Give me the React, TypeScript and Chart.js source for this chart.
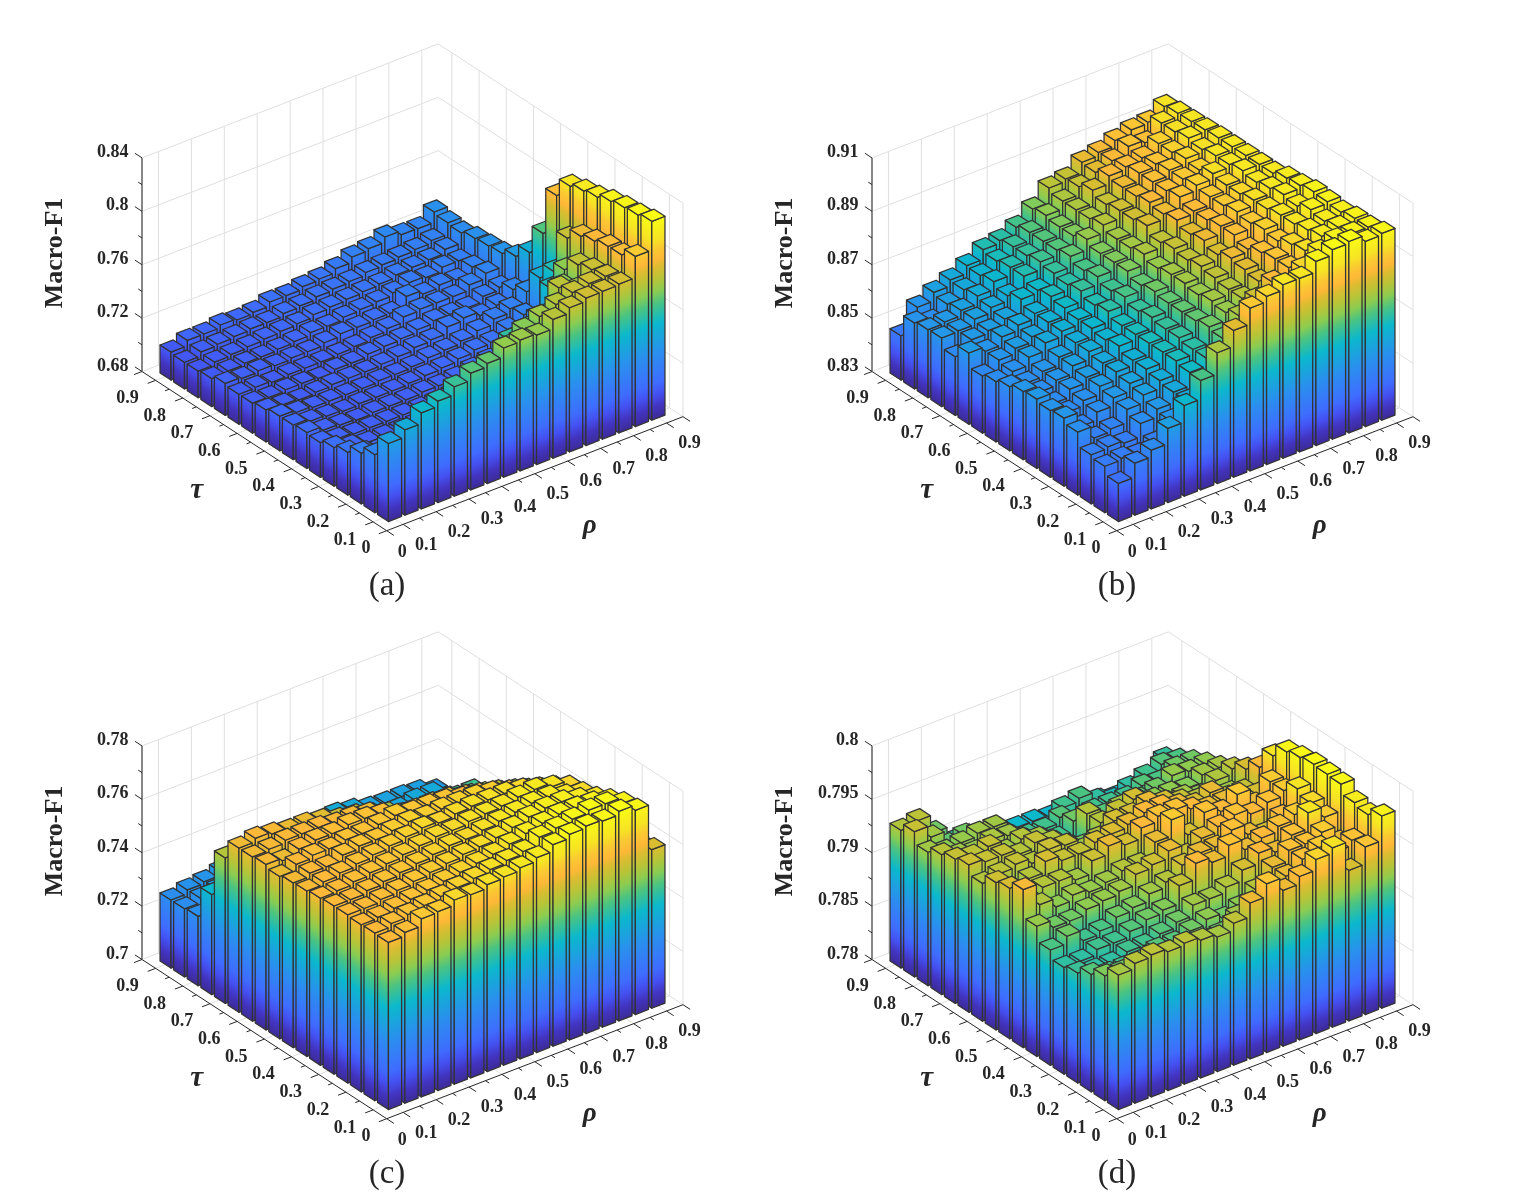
import { useEffect, useRef } from "react";
import { Chart, registerables } from "chart.js";

Chart.register(...registerables);

// bar positions, rows run from the back (tau 0.9) to the front (tau 0.1)
const rhoValues = [0.1, 0.15, 0.2, 0.25, 0.3, 0.35, 0.4, 0.45, 0.5, 0.55, 0.6, 0.65, 0.7, 0.75, 0.8, 0.85, 0.9];
const tauValues = [0.9, 0.85, 0.8, 0.75, 0.7, 0.65, 0.6, 0.55, 0.5, 0.45, 0.4, 0.35, 0.3, 0.25, 0.2, 0.15, 0.1];
const axisTicks = [0.1, 0.15, 0.2, 0.25, 0.3, 0.35, 0.4, 0.45, 0.5, 0.55, 0.6, 0.65, 0.7, 0.75, 0.8, 0.85, 0.9];
const axisLabels = ["0.1", "0.2", "0.3", "0.4", "0.5", "0.6", "0.7", "0.8", "0.9"];

const zLabelsA = ["0.68", "0.72", "0.76", "0.8", "0.84"];
const zLabelsB = ["0.83", "0.85", "0.87", "0.89", "0.91"];
const zLabelsC = ["0.7", "0.72", "0.74", "0.76", "0.78"];
const zLabelsD = ["0.78", "0.785", "0.79", "0.795", "0.8"];

const macroF1A = [
  [0.701, 0.705, 0.705, 0.707, 0.706, 0.707, 0.71, 0.71, 0.712, 0.713, 0.716, 0.72, 0.7215, 0.7255, 0.7225, 0.7223, 0.73],
  [0.7, 0.703, 0.704, 0.705, 0.706, 0.706, 0.708, 0.709, 0.711, 0.712, 0.713, 0.715, 0.716, 0.717, 0.718, 0.72, 0.7285],
  [0.7, 0.702, 0.703, 0.704, 0.705, 0.706, 0.707, 0.709, 0.71, 0.711, 0.712, 0.713, 0.715, 0.716, 0.717, 0.72, 0.7275],
  [0.701, 0.702, 0.703, 0.703, 0.704, 0.705, 0.707, 0.707, 0.709, 0.71, 0.711, 0.713, 0.716, 0.715, 0.718, 0.718, 0.73],
  [0.704, 0.703, 0.704, 0.703, 0.704, 0.704, 0.706, 0.708, 0.708, 0.709, 0.709, 0.717, 0.714, 0.716, 0.715, 0.72, 0.731],
  [0.7025, 0.703, 0.702, 0.703, 0.703, 0.703, 0.704, 0.705, 0.707, 0.709, 0.713, 0.714, 0.714, 0.714, 0.718, 0.722, 0.732],
  [0.7025, 0.702, 0.703, 0.703, 0.702, 0.704, 0.704, 0.706, 0.707, 0.708, 0.71, 0.712, 0.712, 0.712, 0.716, 0.718, 0.7365],
  [0.704, 0.703, 0.702, 0.703, 0.704, 0.704, 0.704, 0.705, 0.706, 0.708, 0.709, 0.714, 0.716, 0.713, 0.716, 0.723, 0.746],
  [0.706, 0.704, 0.703, 0.703, 0.703, 0.703, 0.704, 0.704, 0.705, 0.707, 0.708, 0.71, 0.713, 0.717, 0.72, 0.728, 0.767],
  [0.706, 0.704, 0.703, 0.702, 0.703, 0.703, 0.703, 0.704, 0.705, 0.706, 0.708, 0.71, 0.711, 0.716, 0.722, 0.745, 0.802],
  [0.707, 0.704, 0.703, 0.702, 0.703, 0.703, 0.703, 0.704, 0.704, 0.705, 0.707, 0.709, 0.712, 0.716, 0.727, 0.7565, 0.8155],
  [0.706, 0.704, 0.703, 0.703, 0.703, 0.703, 0.703, 0.703, 0.704, 0.706, 0.709, 0.711, 0.714, 0.722, 0.755, 0.788, 0.8185],
  [0.709, 0.705, 0.703, 0.703, 0.703, 0.703, 0.703, 0.704, 0.705, 0.707, 0.71, 0.713, 0.72, 0.747, 0.7758, 0.796, 0.8205],
  [0.712, 0.707, 0.705, 0.703, 0.703, 0.703, 0.704, 0.705, 0.706, 0.709, 0.714, 0.72, 0.758, 0.775, 0.786, 0.799, 0.824],
  [0.718, 0.711, 0.706, 0.704, 0.704, 0.705, 0.706, 0.707, 0.72, 0.76, 0.764, 0.767, 0.785, 0.779, 0.789, 0.8017, 0.826],
  [0.7235, 0.716, 0.71, 0.708, 0.708, 0.709, 0.713, 0.725, 0.7665, 0.7745, 0.7795, 0.7838, 0.788, 0.79, 0.7907, 0.802, 0.827],
  [0.7385, 0.744, 0.752, 0.756, 0.762, 0.7675, 0.77, 0.7768, 0.778, 0.777, 0.784, 0.788, 0.7905, 0.7908, 0.7915, 0.8075, 0.829],
];

const macroF1B = [
  [0.8466, 0.8549, 0.8581, 0.8604, 0.8634, 0.867, 0.868, 0.8706, 0.8751, 0.8806, 0.8816, 0.8855, 0.8868, 0.8889, 0.8905, 0.891, 0.8945],
  [0.8547, 0.853, 0.857, 0.86, 0.863, 0.866, 0.869, 0.872, 0.876, 0.879, 0.882, 0.885, 0.887, 0.89, 0.889, 0.894, 0.8953],
  [0.8555, 0.856, 0.858, 0.861, 0.864, 0.867, 0.869, 0.872, 0.875, 0.879, 0.884, 0.887, 0.888, 0.889, 0.892, 0.894, 0.8955],
  [0.8557, 0.856, 0.858, 0.86, 0.862, 0.867, 0.87, 0.872, 0.875, 0.879, 0.882, 0.886, 0.889, 0.89, 0.892, 0.895, 0.8957],
  [0.852, 0.856, 0.857, 0.859, 0.864, 0.865, 0.869, 0.873, 0.877, 0.88, 0.883, 0.886, 0.889, 0.891, 0.893, 0.894, 0.896],
  [0.8567, 0.855, 0.858, 0.86, 0.862, 0.866, 0.868, 0.871, 0.875, 0.878, 0.883, 0.887, 0.889, 0.891, 0.892, 0.895, 0.896],
  [0.8514, 0.855, 0.857, 0.859, 0.862, 0.865, 0.869, 0.872, 0.875, 0.878, 0.884, 0.886, 0.89, 0.892, 0.894, 0.895, 0.896],
  [0.8526, 0.854, 0.857, 0.86, 0.862, 0.864, 0.867, 0.87, 0.875, 0.879, 0.881, 0.887, 0.888, 0.891, 0.893, 0.896, 0.896],
  [0.854, 0.853, 0.855, 0.858, 0.861, 0.864, 0.868, 0.871, 0.873, 0.877, 0.882, 0.885, 0.888, 0.891, 0.893, 0.895, 0.896],
  [0.8555, 0.853, 0.855, 0.858, 0.861, 0.863, 0.866, 0.869, 0.874, 0.878, 0.881, 0.886, 0.889, 0.892, 0.894, 0.896, 0.8975],
  [0.856, 0.852, 0.855, 0.857, 0.86, 0.864, 0.866, 0.87, 0.873, 0.878, 0.882, 0.884, 0.889, 0.891, 0.894, 0.897, 0.898],
  [0.855, 0.852, 0.854, 0.857, 0.86, 0.862, 0.866, 0.869, 0.873, 0.877, 0.881, 0.886, 0.887, 0.892, 0.895, 0.896, 0.899],
  [0.8555, 0.85, 0.853, 0.856, 0.859, 0.862, 0.866, 0.869, 0.873, 0.878, 0.88, 0.885, 0.889, 0.891, 0.895, 0.898, 0.8986],
  [0.8536, 0.849, 0.85, 0.855, 0.858, 0.861, 0.866, 0.868, 0.874, 0.877, 0.88, 0.884, 0.89, 0.893, 0.896, 0.897, 0.898],
  [0.8484, 0.849, 0.848, 0.853, 0.856, 0.86, 0.865, 0.868, 0.873, 0.879, 0.883, 0.887, 0.89, 0.894, 0.897, 0.898, 0.899],
  [0.8474, 0.848, 0.847, 0.849, 0.855, 0.86, 0.864, 0.87, 0.877, 0.882, 0.886, 0.889, 0.893, 0.897, 0.899, 0.899, 0.899],
  [0.8443, 0.8495, 0.852, 0.8578, 0.864, 0.871, 0.879, 0.885, 0.891, 0.893, 0.895, 0.895, 0.899, 0.901, 0.9017, 0.8994, 0.9],
];

const macroF1C = [
  [0.7255, 0.7269, 0.7276, 0.729, 0.73, 0.731, 0.731, 0.732, 0.733, 0.733, 0.7339, 0.733, 0.7314, 0.731, 0.731, 0.7305, 0.7284],
  [0.7255, 0.727, 0.728, 0.729, 0.73, 0.731, 0.732, 0.733, 0.734, 0.734, 0.734, 0.733, 0.732, 0.732, 0.733, 0.733, 0.729],
  [0.726, 0.728, 0.729, 0.73, 0.731, 0.732, 0.733, 0.733, 0.733, 0.733, 0.733, 0.733, 0.733, 0.733, 0.733, 0.733, 0.731],
  [0.7375, 0.738, 0.737, 0.738, 0.738, 0.738, 0.738, 0.738, 0.737, 0.736, 0.736, 0.736, 0.735, 0.735, 0.735, 0.734, 0.733],
  [0.7545, 0.752, 0.752, 0.751, 0.75, 0.75, 0.749, 0.748, 0.747, 0.746, 0.745, 0.745, 0.744, 0.744, 0.744, 0.744, 0.735],
  [0.7615, 0.7628, 0.762, 0.761, 0.761, 0.76, 0.758, 0.757, 0.755, 0.753, 0.75, 0.7495, 0.749, 0.7485, 0.748, 0.746, 0.738],
  [0.7615, 0.762, 0.763, 0.763, 0.763, 0.762, 0.762, 0.761, 0.757, 0.756, 0.755, 0.753, 0.753, 0.753, 0.752, 0.75, 0.74],
  [0.762, 0.761, 0.763, 0.764, 0.764, 0.765, 0.765, 0.764, 0.7615, 0.761, 0.761, 0.7605, 0.759, 0.757, 0.756, 0.754, 0.742],
  [0.7608, 0.763, 0.764, 0.764, 0.765, 0.765, 0.766, 0.767, 0.766, 0.766, 0.7655, 0.764, 0.763, 0.761, 0.759, 0.7575, 0.745],
  [0.7617, 0.763, 0.763, 0.765, 0.766, 0.766, 0.767, 0.768, 0.7675, 0.768, 0.768, 0.768, 0.767, 0.765, 0.763, 0.761, 0.747],
  [0.762, 0.763, 0.764, 0.765, 0.766, 0.767, 0.768, 0.769, 0.7685, 0.7695, 0.77, 0.77, 0.77, 0.769, 0.767, 0.765, 0.749],
  [0.7626, 0.763, 0.764, 0.765, 0.766, 0.767, 0.768, 0.769, 0.769, 0.77, 0.7705, 0.771, 0.772, 0.7725, 0.771, 0.7686, 0.751],
  [0.763, 0.763, 0.764, 0.765, 0.766, 0.767, 0.768, 0.769, 0.769, 0.77, 0.771, 0.772, 0.773, 0.773, 0.771, 0.7695, 0.753],
  [0.763, 0.763, 0.764, 0.765, 0.766, 0.767, 0.768, 0.769, 0.7695, 0.7705, 0.772, 0.7735, 0.7745, 0.7745, 0.773, 0.771, 0.755],
  [0.7626, 0.763, 0.764, 0.765, 0.766, 0.767, 0.768, 0.769, 0.77, 0.7715, 0.773, 0.7745, 0.7755, 0.7755, 0.775, 0.7735, 0.756],
  [0.7628, 0.764, 0.765, 0.766, 0.767, 0.768, 0.769, 0.77, 0.771, 0.772, 0.775, 0.776, 0.777, 0.778, 0.778, 0.7757, 0.758],
  [0.7626, 0.764, 0.7667, 0.767, 0.769, 0.7686, 0.77, 0.7705, 0.7716, 0.773, 0.7755, 0.777, 0.7777, 0.7772, 0.7785, 0.7765, 0.7594],
];

const macroF1D = [
  [0.7929, 0.7932, 0.7915, 0.79, 0.79, 0.7895, 0.7892, 0.789, 0.789, 0.7888, 0.7887, 0.7892, 0.7886, 0.7883, 0.7885, 0.7885, 0.7901],
  [0.7936, 0.7925, 0.7912, 0.7915, 0.7905, 0.7895, 0.7893, 0.789, 0.789, 0.7905, 0.7908, 0.79, 0.7895, 0.79, 0.7905, 0.791, 0.7908],
  [0.7925, 0.792, 0.7922, 0.7925, 0.7925, 0.791, 0.7905, 0.7905, 0.791, 0.7895, 0.7905, 0.7905, 0.7905, 0.791, 0.7908, 0.7915, 0.7915],
  [0.7931, 0.7925, 0.7922, 0.7927, 0.7925, 0.7915, 0.791, 0.7905, 0.7915, 0.7912, 0.791, 0.791, 0.7912, 0.7915, 0.7922, 0.792, 0.7921],
  [0.7935, 0.7932, 0.7935, 0.7925, 0.793, 0.7925, 0.7915, 0.7905, 0.793, 0.7915, 0.7925, 0.7925, 0.792, 0.792, 0.7918, 0.7925, 0.7926],
  [0.7938, 0.7935, 0.7935, 0.793, 0.7935, 0.793, 0.792, 0.7915, 0.793, 0.7935, 0.794, 0.7925, 0.7925, 0.7925, 0.792, 0.7928, 0.7933],
  [0.7929, 0.7932, 0.7935, 0.793, 0.7937, 0.7935, 0.7925, 0.793, 0.794, 0.794, 0.7945, 0.794, 0.7935, 0.793, 0.7925, 0.7925, 0.7941],
  [0.7938, 0.7925, 0.793, 0.794, 0.7935, 0.7935, 0.794, 0.7942, 0.7945, 0.795, 0.795, 0.7945, 0.794, 0.7945, 0.7935, 0.7935, 0.7951],
  [0.7941, 0.7925, 0.793, 0.793, 0.7925, 0.7937, 0.7945, 0.794, 0.795, 0.7955, 0.7955, 0.795, 0.7945, 0.7945, 0.794, 0.794, 0.797],
  [0.7948, 0.7928, 0.792, 0.7925, 0.7922, 0.7925, 0.793, 0.793, 0.7945, 0.796, 0.794, 0.7955, 0.795, 0.796, 0.7945, 0.796, 0.7982],
  [0.7922, 0.7915, 0.7915, 0.792, 0.7922, 0.7925, 0.7935, 0.7938, 0.7945, 0.7935, 0.7945, 0.795, 0.7955, 0.795, 0.7955, 0.796, 0.7985],
  [0.7908, 0.7915, 0.7905, 0.7908, 0.7915, 0.7918, 0.7925, 0.793, 0.794, 0.7945, 0.7945, 0.7955, 0.7945, 0.794, 0.795, 0.797, 0.7987],
  [0.79, 0.79, 0.7905, 0.7905, 0.791, 0.7915, 0.7918, 0.7935, 0.795, 0.7945, 0.7955, 0.7945, 0.795, 0.7955, 0.796, 0.7965, 0.7986],
  [0.7903, 0.79, 0.79, 0.7905, 0.7905, 0.791, 0.7915, 0.7925, 0.7925, 0.793, 0.794, 0.795, 0.7945, 0.7955, 0.797, 0.796, 0.7985],
  [0.791, 0.7905, 0.7905, 0.7905, 0.791, 0.791, 0.7915, 0.792, 0.7915, 0.792, 0.793, 0.7945, 0.7955, 0.7955, 0.796, 0.7945, 0.7976],
  [0.7917, 0.7915, 0.7905, 0.7912, 0.791, 0.7915, 0.7915, 0.7915, 0.7925, 0.793, 0.794, 0.7945, 0.7955, 0.796, 0.795, 0.7955, 0.7973],
  [0.7926, 0.7931, 0.7933, 0.793, 0.7932, 0.7929, 0.7926, 0.7933, 0.7946, 0.7958, 0.7946, 0.7953, 0.7963, 0.7968, 0.7941, 0.7957, 0.798],
];

const colorStops: [number, string][] = [
  [0, "#3d2b96"],
  [0.06, "#4234c0"],
  [0.12, "#4450f0"],
  [0.18, "#3f6cff"],
  [0.33, "#2a8fee"],
  [0.48, "#0bb8cc"],
  [0.58, "#4cc480"],
  [0.64, "#8ccc50"],
  [0.7, "#b8c438"],
  [0.76, "#dcbc30"],
  [0.8, "#ffb838"],
  [0.85, "#fac832"],
  [0.9, "#f6e324"],
  [1, "#f9fb15"],
];

// view of the 3D box in page pixels: front floor corner and the edge vectors
const FRONT = [386.7, 530.7];
const RHO_EDGE = [296.3, -114];
const TAU_EDGE = [-244.7, -159.2];
const Z_HEIGHT = 213.6;
const AXIS_START = 0.05;
const AXIS_SPAN = 0.9;
const BAR_HALF = 0.02;

const hexToRgb = (hex: string) => [1, 3, 5].map((i) => parseInt(hex.slice(i, i + 2), 16));

function colorAt(t: number) {
  const v = Math.min(1, Math.max(0, t));
  for (let i = 1; i < colorStops.length; i++) {
    if (v <= colorStops[i][0]) {
      const [t0, c0] = colorStops[i - 1];
      const [t1, c1] = colorStops[i];
      const k = (v - t0) / (t1 - t0);
      const a = hexToRgb(c0);
      const b = hexToRgb(c1);
      return `rgb(${a.map((x, n) => Math.round(x + (b[n] - x) * k)).join(",")})`;
    }
  }
  return colorStops[colorStops.length - 1][1];
}

interface PanelProps {
  values: number[][];
  zLabels: string[];
  caption: string;
  left: number;
  top: number;
}

function Panel({ values, zLabels, caption, left, top }: PanelProps) {
  const canvasRef = useRef<HTMLCanvasElement>(null);

  useEffect(() => {
    if (!canvasRef.current) return;
    const zMin = parseFloat(zLabels[0]);
    const zMax = parseFloat(zLabels[zLabels.length - 1]);
    const dataMax = Math.max(...values.flat());

    // data space to the flat plane the chart's x / y scales work in
    const project = (rho: number, tau: number, z: number) => {
      const r = (rho - AXIS_START) / AXIS_SPAN;
      const t = (tau - AXIS_START) / AXIS_SPAN;
      return {
        x: FRONT[0] + r * RHO_EDGE[0] + t * TAU_EDGE[0],
        y: FRONT[1] + r * RHO_EDGE[1] + t * TAU_EDGE[1] - ((z - zMin) / (zMax - zMin)) * Z_HEIGHT,
      };
    };

    const tops = values.flatMap((row, i) => row.map((v, j) => project(rhoValues[j], tauValues[i], v)));

    const box3d = {
      id: "box3d",
      beforeDatasetsDraw(chart: Chart) {
        const ctx = chart.ctx;
        const sx = chart.scales.x;
        const sy = chart.scales.y;
        const at = (rho: number, tau: number, z: number) => {
          const p = project(rho, tau, z);
          return [sx.getPixelForValue(p.x), sy.getPixelForValue(p.y)];
        };
        const line = (a: number[], b: number[], color: string, width: number) => {
          ctx.strokeStyle = color;
          ctx.lineWidth = width;
          ctx.beginPath();
          ctx.moveTo(a[0], a[1]);
          ctx.lineTo(b[0], b[1]);
          ctx.stroke();
        };
        const label = (text: string, x: number, y: number, font: string, align: CanvasTextAlign = "center") => {
          ctx.font = font;
          ctx.fillStyle = "#262626";
          ctx.textAlign = align;
          ctx.textBaseline = "middle";
          ctx.fillText(text, x, y);
        };
        const rhoEnd = AXIS_START + AXIS_SPAN;
        const tauEnd = AXIS_START + AXIS_SPAN;
        const grid = "#dfdfdf";

        ctx.save();
        // walls and floor
        const zStep = (zMax - zMin) / (zLabels.length - 1);
        zLabels.forEach((_, n) => {
          const z = zMin + n * zStep;
          line(at(AXIS_START, tauEnd, z), at(rhoEnd, tauEnd, z), grid, 1);
          line(at(rhoEnd, tauEnd, z), at(rhoEnd, AXIS_START, z), grid, 1);
        });
        line(at(rhoEnd, AXIS_START, zMin), at(rhoEnd, AXIS_START, zMax), grid, 1);
        axisTicks.forEach((tick, n) => {
          if (n % 2) return;
          line(at(tick, tauEnd, zMin), at(tick, tauEnd, zMax), grid, 1);
          line(at(rhoEnd, tick, zMin), at(rhoEnd, tick, zMax), grid, 1);
          line(at(tick, AXIS_START, zMin), at(tick, tauEnd, zMin), grid, 1);
          line(at(AXIS_START, tick, zMin), at(rhoEnd, tick, zMin), grid, 1);
        });

        // bars, back to front
        const fullTop = (dataMax - zMin) / (zMax - zMin);
        const sideFill = (a: number[], b: number[]) => {
          const ex = b[0] - a[0];
          const ey = b[1] - a[1];
          const len = Math.hypot(ex, ey);
          let nx = -ey / len;
          let ny = ex / len;
          if (ny > 0) {
            nx = -nx;
            ny = -ny;
          }
          const reach = -ny * fullTop * Z_HEIGHT;
          const g = ctx.createLinearGradient(a[0], a[1], a[0] + nx * reach, a[1] + ny * reach);
          colorStops.forEach(([t, c]) => g.addColorStop(t, c));
          return g;
        };
        const face = (pts: number[][], fill: string | CanvasGradient) => {
          ctx.beginPath();
          pts.forEach((p, n) => (n ? ctx.lineTo(p[0], p[1]) : ctx.moveTo(p[0], p[1])));
          ctx.closePath();
          ctx.fillStyle = fill;
          ctx.fill();
          ctx.strokeStyle = "#333333";
          ctx.lineWidth = 1.25;
          ctx.lineJoin = "round";
          ctx.stroke();
        };
        tauValues.forEach((tau, i) => {
          for (let j = rhoValues.length - 1; j >= 0; j--) {
            const rho = rhoValues[j];
            const v = values[i][j];
            const r0 = rho - BAR_HALF;
            const r1 = rho + BAR_HALF;
            const t0 = tau - BAR_HALF;
            const t1 = tau + BAR_HALF;
            const front = at(r0, t0, zMin);
            const right = at(r1, t0, zMin);
            const leftB = at(r0, t1, zMin);
            face([leftB, front, at(r0, t0, v), at(r0, t1, v)], sideFill(front, leftB));
            face([front, right, at(r1, t0, v), at(r0, t0, v)], sideFill(front, right));
            face([at(r0, t0, v), at(r1, t0, v), at(r1, t1, v), at(r0, t1, v)], colorAt((v - zMin) / (dataMax - zMin)));
          }
        });

        // axis lines and ticks
        const axisDark = "#262626";
        const corner = at(AXIS_START, AXIS_START, zMin);
        line(at(AXIS_START, tauEnd, zMin), corner, axisDark, 1);
        line(corner, at(rhoEnd, AXIS_START, zMin), axisDark, 1);
        line(at(AXIS_START, tauEnd, zMin), at(AXIS_START, tauEnd, zMax), "#7a7a7a", 1.8);

        const tauLen = Math.hypot(TAU_EDGE[0], TAU_EDGE[1]);
        const rhoLen = Math.hypot(RHO_EDGE[0], RHO_EDGE[1]);
        const tauDir = [TAU_EDGE[0] / tauLen, TAU_EDGE[1] / tauLen];
        const rhoDir = [RHO_EDGE[0] / rhoLen, RHO_EDGE[1] / rhoLen];
        const ends = [...axisTicks.map((tick, n) => ({ tick, major: n % 2 === 0 })), { tick: AXIS_START, major: true }, { tick: rhoEnd, major: true }];
        ends.forEach(({ tick, major }) => {
          const size = major ? 8.5 : 4.5;
          const a = at(tick, AXIS_START, zMin);
          line(a, [a[0] - tauDir[0] * size, a[1] - tauDir[1] * size], axisDark, 1);
          const b = at(AXIS_START, tick, zMin);
          line(b, [b[0] - rhoDir[0] * size, b[1] - rhoDir[1] * size], axisDark, 1);
        });
        for (let n = 0; n <= (zLabels.length - 1) * 2; n++) {
          const size = n % 2 ? 4.5 : 8.5;
          const a = at(AXIS_START, tauEnd, zMin + (n * zStep) / 2);
          line(a, [a[0] + tauDir[0] * size, a[1] + tauDir[1] * size], axisDark, 1);
        }

        // text
        const tickFont = 'bold 18px "Liberation Serif"';
        zLabels.forEach((text, n) => {
          const a = at(AXIS_START, tauEnd, zMin + n * zStep);
          label(text, a[0] - 13.5, a[1] - 5.5, tickFont, "right");
        });
        axisLabels.forEach((text, n) => {
          const a = at(axisTicks[n * 2], AXIS_START, zMin);
          label(text, a[0] + 23, a[1] + 20.5, tickFont);
          const b = at(AXIS_START, axisTicks[n * 2], zMin);
          label(text, b[0] - 28, b[1] + 18, tickFont);
        });
        label("0", corner[0] + 15.5, corner[1] + 21.5, tickFont);
        label("0", corner[0] - 20.7, corner[1] + 17.3, tickFont);
        label("τ", corner[0] - 190, corner[1] - 40, 'italic bold 29px "Liberation Serif"');
        label("ρ", corner[0] + 203, corner[1] - 5, 'italic bold 27px "Liberation Serif"');
        label(caption, 387, 586.5, '33px "Liberation Serif"');
        ctx.translate(55, 253);
        ctx.rotate(-Math.PI / 2);
        label("Macro-F1", 0, 0, 'bold 26px "Liberation Serif"');
        ctx.restore();
      },
    };

    const chart = new Chart(canvasRef.current, {
      type: "scatter",
      data: { datasets: [{ data: tops, pointRadius: 0 }] },
      options: {
        responsive: false,
        animation: false,
        layout: { padding: 0 },
        plugins: { legend: { display: false }, tooltip: { enabled: false } },
        scales: {
          x: { type: "linear", display: false, min: 0, max: 760 },
          y: { type: "linear", display: false, min: 0, max: 606, reverse: true },
        },
      },
      plugins: [box3d],
    });

    return () => {
      chart.destroy();
    };
  }, [values, zLabels, caption]);

  return <canvas ref={canvasRef} width={760} height={606} style={{ position: "absolute", left, top, display: "block" }} />;
}

export default function App() {
  return (
    <div style={{ position: "absolute", left: 0, top: 0, width: 1525, height: 1194, background: "#fff", overflow: "hidden" }}>
      <Panel values={macroF1A} zLabels={zLabelsA} caption="(a)" left={0} top={0} />
      <Panel values={macroF1B} zLabels={zLabelsB} caption="(b)" left={730} top={0} />
      <Panel values={macroF1C} zLabels={zLabelsC} caption="(c)" left={0} top={588} />
      <Panel values={macroF1D} zLabels={zLabelsD} caption="(d)" left={730} top={588} />
    </div>
  );
}
